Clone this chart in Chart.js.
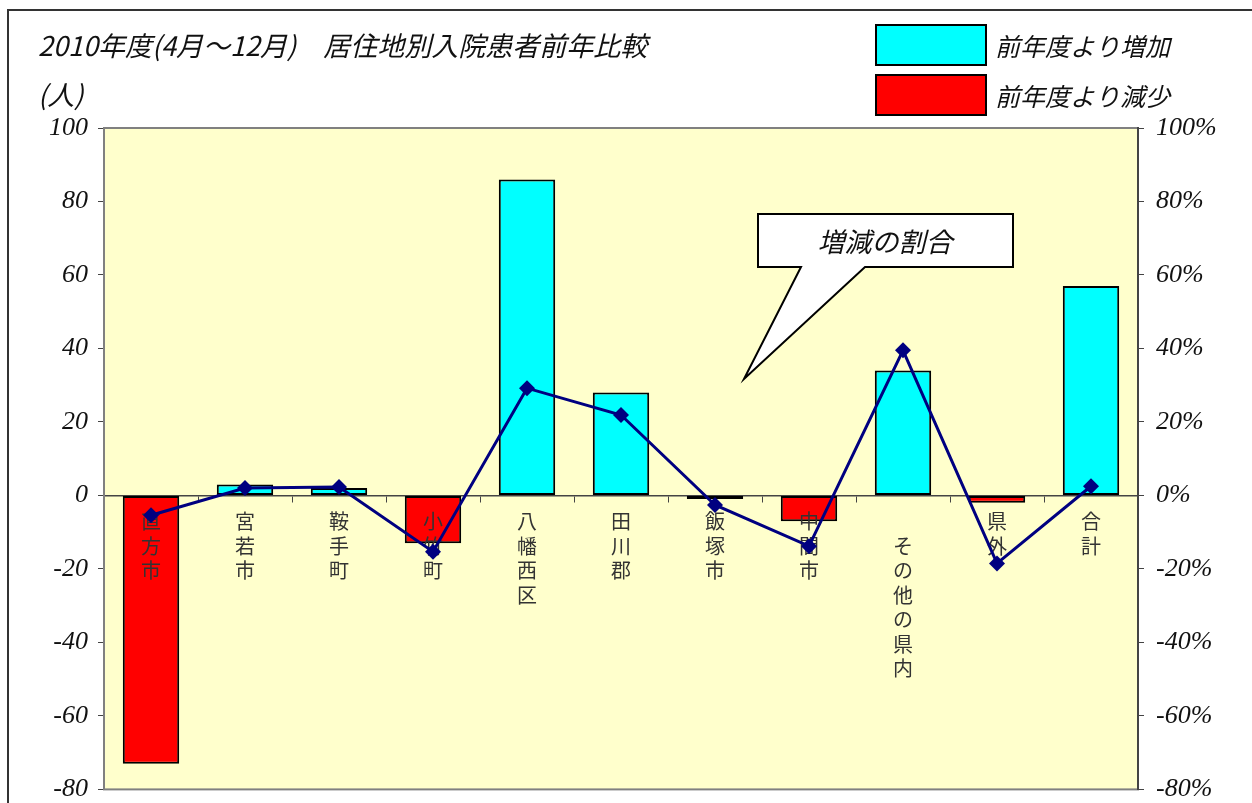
<!DOCTYPE html>
<html>
<head>
<meta charset="utf-8">
<script src="https://cdn.jsdelivr.net/npm/chart.js@4/dist/chart.umd.min.js"></script>
<style>
  body { margin: 0; background: #fff; overflow: hidden; }
  #wrap { position: relative; width: 1252px; height: 817px; }
</style>
</head>
<body>
<div id="wrap"><canvas id="myChart"></canvas></div>
<script>
    // 居住地別 入院患者数 前年比較 (2010年度 4月～12月)
    var categories = ['直方市', '宮若市', '鞍手町', '小竹町', '八幡西区', '田川郡', '飯塚市', '中間市', '　その他の県内', '県外', '合計'];
    var changes = [-73, 3, 2, -13, 86, 28, -1, -7, 34, -2, 57];          // 人
    var ratios = [-5.4, 2.0, 2.3, -15.3, 29.2, 21.9, -2.6, -13.8, 39.5, -18.5, 2.5]; // %
    var leftTicks = [-80, -60, -40, -20, 0, 20, 40, 60, 80, 100];

    var serif = '"Liberation Serif", "Noto Sans CJK JP", serif';
    var jp = '"Noto Sans CJK JP", sans-serif';

    var increase = changes.map(function (v) { return v >= 0 ? v : null; });
    var decrease = changes.map(function (v) { return v < 0 ? v : null; });

    var decor = {
        id: 'decor',
        beforeDraw: function (chart) {
            var c = chart.ctx, a = chart.chartArea;
            c.save();
            c.fillStyle = '#fff';
            c.fillRect(0, 0, chart.width, chart.height);
            // outer frame
            c.strokeStyle = '#333';
            c.lineWidth = 2;
            c.strokeRect(8, 10, chart.width + 20, chart.height + 20);
            // plot area
            c.fillStyle = '#FFFFCC';
            c.fillRect(a.left, a.top, a.right - a.left, a.bottom - a.top);
            c.strokeStyle = '#808080';
            c.strokeRect(a.left, a.top, a.right - a.left, a.bottom - a.top);
            c.restore();
        },
        // vertical category labels: above the bars, under the line
        beforeDatasetDraw: function (chart, args) {
            if (args.index !== 0) return;
            var c = chart.ctx, xs = chart.scales.x, y0 = chart.scales.y.getPixelForValue(0);
            c.save();
            c.fillStyle = '#333';
            c.font = '20px ' + jp;
            c.textAlign = 'center';
            c.textBaseline = 'middle';
            categories.forEach(function (cat, i) {
                Array.from(cat).forEach(function (ch, j) {
                    c.fillText(ch, xs.getPixelForValue(i), y0 + 26 + j * 24.5);
                });
            });
            c.restore();
        },
        afterDraw: function (chart) {
            var c = chart.ctx;
            c.save();
            c.fillStyle = '#111';
            c.textBaseline = 'middle';
            c.textAlign = 'left';
            c.font = 'italic 27px ' + jp;
            c.fillText('2010年度(4月～12月)　居住地別入院患者前年比較', 38, 46);
            c.fillText('(人)', 38, 95);

            // legend (bar datasets)
            var ds = chart.data.datasets.filter(function (d) { return d.type !== 'line'; });
            ds.forEach(function (d, i) {
                var y = 25 + i * 50;
                c.fillStyle = d.backgroundColor;
                c.fillRect(876, y, 110, 40);
                c.strokeStyle = '#000';
                c.lineWidth = 2;
                c.strokeRect(876, y, 110, 40);
                c.fillStyle = '#111';
                c.font = 'italic 25px ' + jp;
                c.fillText(d.label, 995, y + 21);
            });

            // callout for the line
            c.beginPath();
            c.moveTo(758, 214);
            c.lineTo(1013, 214);
            c.lineTo(1013, 267);
            c.lineTo(865, 267);
            c.lineTo(744, 379);
            c.lineTo(801, 267);
            c.lineTo(758, 267);
            c.closePath();
            c.fillStyle = '#fff';
            c.fill();
            c.strokeStyle = '#000';
            c.lineWidth = 2;
            c.stroke();
            c.fillStyle = '#111';
            c.textAlign = 'center';
            c.font = 'italic 27px ' + jp;
            c.fillText(chart.data.datasets[0].label, 885, 242);
            c.restore();
        }
    };

    var ctx = document.getElementById('myChart').getContext('2d');
    var chart = new Chart(ctx, {
        type: 'bar',
        data: {
            labels: categories,
            datasets: [
                {
                    type: 'line',
                    label: '増減の割合',
                    data: ratios,
                    yAxisID: 'y1',
                    borderColor: '#000080',
                    backgroundColor: '#000080',
                    borderWidth: 3,
                    pointStyle: 'rectRot',
                    pointRadius: 8,
                    pointBorderWidth: 0,
                    tension: 0,
                    order: 0
                },
                {
                    label: '前年度より増加',
                    data: increase,
                    backgroundColor: '#00FFFF',
                    borderColor: '#000',
                    borderWidth: 2,
                    borderSkipped: false,
                    grouped: false,
                    barPercentage: 0.6,
                    categoryPercentage: 1,
                    order: 1
                },
                {
                    label: '前年度より減少',
                    data: decrease,
                    backgroundColor: '#FF0000',
                    borderColor: '#000',
                    borderWidth: 2,
                    borderSkipped: false,
                    grouped: false,
                    barPercentage: 0.6,
                    categoryPercentage: 1,
                    order: 1
                }
            ]
        },
        options: {
            responsive: true,
            maintainAspectRatio: false,
            animation: false,
            layout: { padding: { top: 128, bottom: 1, left: 0, right: 0 } },
            plugins: {
                legend: { display: false },
                tooltip: { enabled: false }
            },
            scales: {
                x: {
                    position: { y: 0 },
                    offset: true,
                    border: { color: '#444', width: 1.5 },
                    grid: { offset: true, drawOnChartArea: false, tickLength: 6, color: '#444' },
                    ticks: { display: false }
                },
                y: {
                    position: 'left',
                    min: -80, max: 100,
                    afterFit: function (s) { s.width = 104; },
                    afterBuildTicks: function (s) { s.ticks = leftTicks.map(function (v) { return { value: v }; }); },
                    border: { color: '#808080', width: 2 },
                    grid: { drawOnChartArea: false, tickLength: 6, color: '#444' },
                    ticks: { color: '#111', padding: 10, font: { family: serif, style: 'italic', size: 26 } }
                },
                y1: {
                    position: 'right',
                    min: -80, max: 100,
                    afterFit: function (s) { s.width = 114; },
                    afterBuildTicks: function (s) { s.ticks = leftTicks.map(function (v) { return { value: v }; }); },
                    border: { color: '#444', width: 2 },
                    grid: { drawOnChartArea: false, tickLength: 6, color: '#444' },
                    ticks: {
                        color: '#111', padding: 12,
                        font: { family: serif, style: 'italic', size: 26 },
                        callback: function (v) { return v + '%'; }
                    }
                }
            }
        },
        plugins: [decor]
    });
</script>
</body>
</html>
